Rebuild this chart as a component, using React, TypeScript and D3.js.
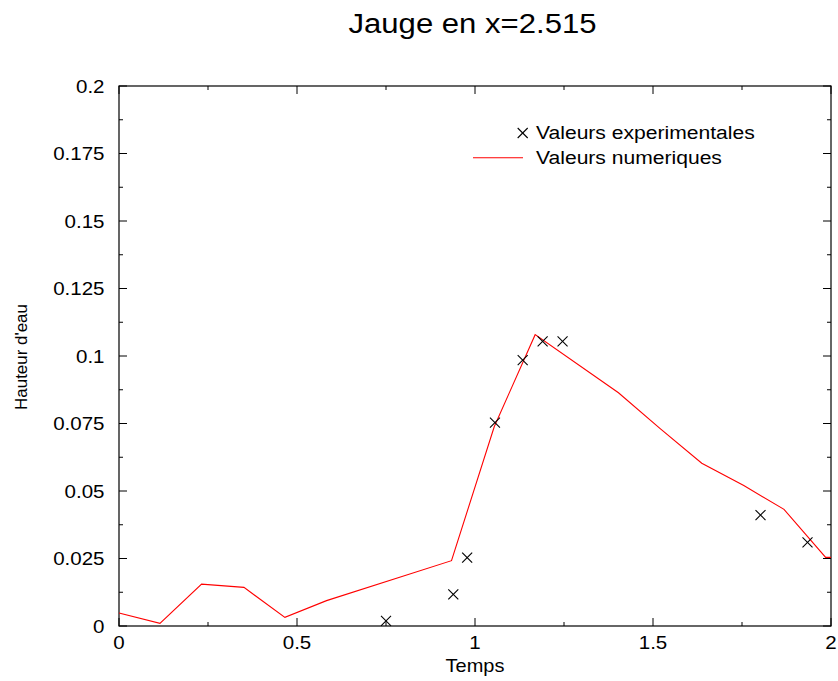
import React from "react";
import * as d3 from "d3";

const numTimes = [0, 0.115, 0.232, 0.351, 0.466, 0.583, 0.934, 1.054, 1.169, 1.403, 1.521, 1.637, 1.755, 1.868, 1.985, 2.0];
const numValues = [0.0048, 0.001, 0.0155, 0.0143, 0.0032, 0.0094, 0.0242, 0.0738, 0.1079, 0.0864, 0.073, 0.0603, 0.052, 0.0432, 0.0254, 0.0254];

const expTimes = [0.75, 0.939, 0.978, 1.056, 1.134, 1.19, 1.246, 1.802, 1.934];
const expValues = [0.0019, 0.0117, 0.0253, 0.0753, 0.0985, 0.1054, 0.1054, 0.0411, 0.031];

const xTicks = [0, 0.5, 1, 1.5, 2];
const xTickLabels = ["0", "0.5", "1", "1.5", "2"];
const yTicks = [0, 0.025, 0.05, 0.075, 0.1, 0.125, 0.15, 0.175, 0.2];
const yTickLabels = ["0", "0.025", "0.05", "0.075", "0.1", "0.125", "0.15", "0.175", "0.2"];

const title = "Jauge en x=2.515";
const xLabel = "Temps";
const yLabel = "Hauteur d'eau";
const legendExp = "Valeurs experimentales";
const legendNum = "Valeurs numeriques";

const W = 838, H = 681;
const L = 119, R = 831, T = 86, B = 626;
const FONT = "'Liberation Sans', Arial, sans-serif";
const SX = 1.11;

function Txt(props: { x: number; y: number; size: number; anchor?: string; rotate?: number; sx?: number; children: any }) {
  const { x, y, size, anchor = "start", rotate = 0, sx = SX, children } = props;
  return (
    <text
      transform={`translate(${x},${y}) rotate(${rotate}) scale(${sx},1)`}
      fontSize={size}
      textAnchor={anchor as any}
      fill="#000"
    >
      {children}
    </text>
  );
}

export default function App() {
  const x = d3.scaleLinear().domain([0, 2]).range([L, R]);
  const y = d3.scaleLinear().domain([0, 0.2]).range([B, T]);
  const line = d3.line<number>().x((_, i) => x(numTimes[i])).y((d) => y(d));
  const xMinor = d3.range(0, 2.0001, 0.25);
  const yMinor = d3.range(0, 0.20001, 0.0125);
  const cross = (cx: number, cy: number, s: number, key?: any) => (
    <g key={key} stroke="#000" strokeWidth={1.1}>
      <line x1={cx - s} y1={cy - s} x2={cx + s} y2={cy + s} />
      <line x1={cx - s} y1={cy + s} x2={cx + s} y2={cy - s} />
    </g>
  );
  return (
    <svg width={W} height={H} style={{ position: "absolute", left: 0, top: 0, background: "#fff" }} fontFamily={FONT}>
      <rect x={0} y={0} width={W} height={H} fill="#fff" />
      <Txt x={472.5} y={32.5} size={28} anchor="middle">{title}</Txt>
      {xMinor.map((v, i) => {
        const major = i % 2 === 0;
        const len = major ? 8 : 4;
        return (
          <g key={"xt" + i} stroke="#000" strokeWidth={1}>
            <line x1={x(v)} x2={x(v)} y1={B} y2={B - len} />
            <line x1={x(v)} x2={x(v)} y1={T} y2={T + len} />
          </g>
        );
      })}
      {yMinor.map((v, i) => {
        const major = i % 2 === 0;
        const len = major ? 8 : 4;
        return (
          <g key={"yt" + i} stroke="#000" strokeWidth={1}>
            <line x1={L} x2={L + len} y1={y(v)} y2={y(v)} />
            <line x1={R} x2={R - len} y1={y(v)} y2={y(v)} />
          </g>
        );
      })}
      <rect x={L} y={T} width={R - L} height={B - T} fill="none" stroke="#000" strokeWidth={1.2} />
      {xTicks.map((v, i) => (
        <Txt key={"xl" + i} x={x(v)} y={649} size={18.5} anchor="middle">{xTickLabels[i]}</Txt>
      ))}
      {yTicks.map((v, i) => (
        <Txt key={"yl" + i} x={104.5} y={y(v) + 6.8} size={18.5} anchor="end">{yTickLabels[i]}</Txt>
      ))}
      <Txt x={475} y={672} size={18} anchor="middle">{xLabel}</Txt>
      <Txt x={27} y={357} size={16} anchor="middle" rotate={-90} sx={1.06}>{yLabel}</Txt>
      <path d={line(numValues) || ""} fill="none" stroke="#ff0000" strokeWidth={1.1} />
      {expValues.map((v, i) => cross(x(expTimes[i]), y(v), 5, "c" + i))}
      {cross(522.7, 133, 5)}
      <Txt x={536} y={139} size={19}>{legendExp}</Txt>
      <line x1={473} x2={523} y1={157.7} y2={157.7} stroke="#ff0000" strokeWidth={1.1} />
      <Txt x={536} y={164} size={19}>{legendNum}</Txt>
    </svg>
  );
}
